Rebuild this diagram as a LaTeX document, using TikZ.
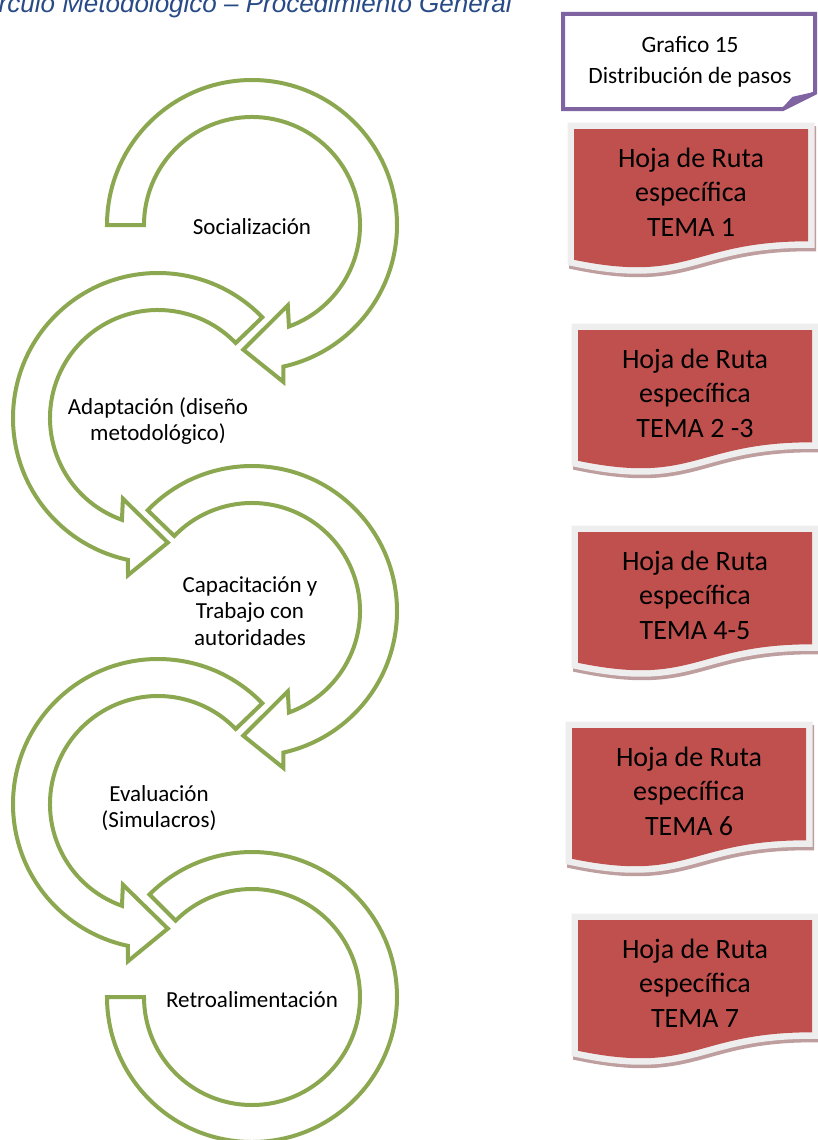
\documentclass[tikz,border=0pt]{standalone}
\usepackage{fontspec}
\setmainfont{Carlito}
\newfontfamily\titlefont{Liberation Sans}
\definecolor{arrowgreen}{RGB}{139,168,80}
\definecolor{titleblue}{RGB}{40,75,135}
\definecolor{docred}{RGB}{192,80,77}
\definecolor{docborder}{RGB}{238,238,238}
\definecolor{docshadow}{RGB}{190,158,158}
\definecolor{notepurple}{RGB}{128,100,162}
\tikzset{
  ringarrow/.style={draw=arrowgreen, line width=4pt, fill=white, line join=miter},
  steptext/.style={font=\fontsize{23}{26.5}\selectfont, align=center, inner sep=0pt},
  doctext/.style={font=\fontsize{28}{34.5}\selectfont, align=center, inner sep=0pt},
  notetext/.style={font=\fontsize{23.4}{31}\selectfont, align=center, inner sep=0pt},
}
% clockwise ring arrow: centre, tail angle, tip angle
\newcommand\cwring[3]{%
  \begin{scope}[shift={#1}]
    \draw[ringarrow] (#2:108) -- (#2:145)
      arc[start angle=#2, end angle=#3-16.5, radius=145]
      -- (#3-15.3:160) -- (#3:125) -- (#3-28:88) -- (#3-24:108)
      arc[start angle=#3-24, end angle=#2, radius=108] -- cycle;
  \end{scope}}
% counter-clockwise ring arrow: centre, tail angle, tip angle
\newcommand\ccwring[3]{%
  \begin{scope}[shift={#1}]
    \draw[ringarrow] (#2:108) -- (#2:145)
      arc[start angle=#2, end angle=#3+16.5, radius=145]
      -- (#3+15.3:160) -- (#3:125) -- (#3+28:88) -- (#3+24:108)
      arc[start angle=#3+24, end angle=#2, radius=108] -- cycle;
  \end{scope}}
% document shape path: x, y of top-left
\newcommand\docpath[2]{(#1,#2) -- (#1+234,#2) -- (#1+234,#2+112.3)
  .. controls (#1+117,#2+112.3) and (#1+117,#2+155) .. (#1,#2+130.8) -- cycle}
\newcommand\docbox[4]{%
  \draw[docshadow, line width=13pt, line join=miter, shift={(1.5,3.5)}] \docpath{#1}{#2};
  \draw[docborder, line width=13pt, line join=miter] \docpath{#1}{#2};
  \fill[docred] \docpath{#1}{#2};
  \node[doctext] (#3) at (#1+117,#2+63) {Hoja de Ruta\\específica\\#4};}

\begin{document}
\begin{tikzpicture}[x=1pt, y=-1pt]
  \useasboundingbox (0,0) rectangle (818,1140);
  \fill[white] (0,0) rectangle (818,1140);

  % title (cut off at the left and top, as in the source)
  \node[font=\titlefont\itshape\fontsize{26}{30}\selectfont, text=titleblue,
        anchor=base east, inner sep=0pt] (title) at (512,12.5)
        {Círculo Metodológico – Procedimiento General};

  % note box
  \draw[draw=notepurple, line width=4pt, fill=white, line join=miter]
    (563,14) -- (815,14) -- (815,93) -- (783,109) -- (563,109) -- cycle;
  \draw[draw=notepurple, line width=2.5pt, fill=notepurple, line join=round]
    (783,109) -- (793,98) -- (815,93) -- cycle;
  \node[notetext] (note) at (690,62) {Grafico 15\\Distribución de pasos};

  % ring arrows
  \cwring{(252,225)}{180}{454}
  \ccwring{(158,418)}{-44}{-274.5}
  \cwring{(252,611)}{224}{454}
  \ccwring{(158,804)}{-44}{-274.5}
  \begin{scope}[shift={(252,997)}]
    \draw[ringarrow] (225:108) -- (225:145)
      arc[start angle=225, end angle=540, radius=145]
      -- (540:108)
      arc[start angle=540, end angle=225, radius=108] -- cycle;
  \end{scope}

  \node[steptext] (soc) at (252,227) {Socialización};
  \node[steptext] (adapt) at (158,421) {Adaptación (diseño\\metodológico)};
  \node[steptext] (capac) at (250,611) {Capacitación y\\Trabajo con\\autoridades};
  \node[steptext] (eval) at (159,808) {Evaluación\\(Simulacros)};
  \node[steptext] (retro) at (252,1000) {Retroalimentación};

  % document boxes
  \docbox{574}{129}{doc1}{TEMA 1}
  \docbox{578}{330}{doc2}{TEMA 2 -3}
  \docbox{578}{532}{doc3}{TEMA 4-5}
  \docbox{572}{728}{doc4}{TEMA 6}
  \docbox{578}{920}{doc5}{TEMA 7}
\end{tikzpicture}
\end{document}
